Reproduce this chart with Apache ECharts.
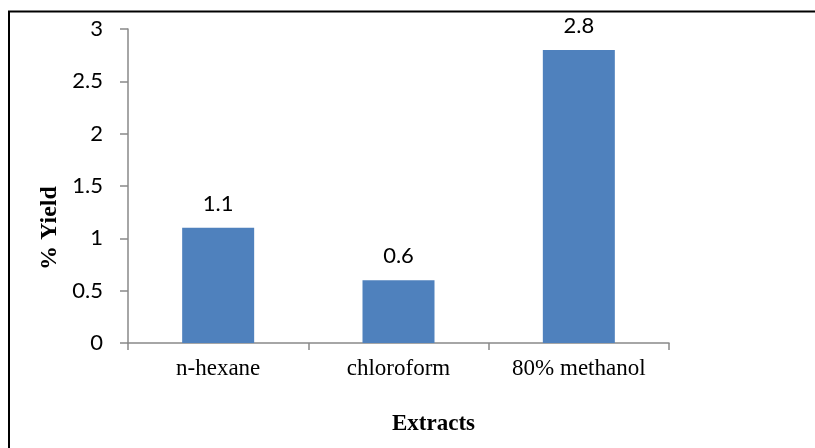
<!DOCTYPE html>
<html>
<head>
<meta charset="utf-8">
<script src="https://cdn.jsdelivr.net/npm/echarts@6/dist/echarts.min.js"></script>
<style>
  html, body { margin: 0; padding: 0; background: #fff; overflow: hidden; }
  #chart { width: 815px; height: 448px; }
</style>
</head>
<body>
<div id="chart"></div>
<script>
var categories = ['n-hexane', 'chloroform', '80% methanol'];
var yieldValues = [1.1, 0.6, 2.8];
var yTicks = [0, 0.5, 1, 1.5, 2, 2.5, 3];

var chart = echarts.init(document.getElementById('chart'), null, { renderer: 'canvas' });
var axisGray = '#898989';

var option = {
    animation: false,
    backgroundColor: '#fff',
    graphic: [
        {
            // frame of the figure: only its top and left edges are inside the picture
            type: 'polyline',
            shape: { points: [[9, 460], [9, 11.5], [830, 11.5]] },
            style: { fill: 'none', stroke: '#000', lineWidth: 2 }
        }
    ],
    grid: { left: 128, right: 146, top: 29, bottom: 105 },
    xAxis: {
        type: 'category',
        data: categories,
        name: 'Extracts',
        nameLocation: 'middle',
        nameGap: 70,
        nameTextStyle: {
            fontFamily: 'Liberation Serif',
            fontWeight: 'bold',
            fontSize: 23,
            color: '#000',
            padding: [0, 0, 0, 70]
        },
        axisLine: { lineStyle: { color: axisGray, width: 1.5 } },
        axisTick: { show: true, length: 7, alignWithLabel: false, lineStyle: { color: axisGray, width: 1.5 } },
        axisLabel: { fontFamily: 'Liberation Serif', fontSize: 23, color: '#000', margin: 14 }
    },
    yAxis: {
        type: 'value',
        min: yTicks[0],
        max: yTicks[yTicks.length - 1],
        interval: 0.5,
        name: '% Yield',
        nameLocation: 'middle',
        nameGap: 50,
        nameRotate: 90,
        nameTextStyle: {
            fontFamily: 'Liberation Serif',
            fontWeight: 'bold',
            fontSize: 24,
            color: '#000',
            padding: [0, 84, 0, 0]
        },
        splitLine: { show: false },
        axisLine: { show: true, lineStyle: { color: axisGray, width: 1.5 } },
        axisTick: { show: true, length: 8, lineStyle: { color: axisGray, width: 1.5 } },
        axisLabel: { fontFamily: 'Lato', fontSize: 22, color: '#000', margin: 25 }
    },
    series: [
        {
            type: 'bar',
            data: yieldValues,
            barWidth: 72,
            itemStyle: { color: '#4F81BD' },
            label: {
                show: true,
                position: 'top',
                distance: 13,
                fontFamily: 'Lato',
                fontSize: 22,
                color: '#000'
            }
        }
    ]
};
chart.setOption(option);
</script>
</body>
</html>
